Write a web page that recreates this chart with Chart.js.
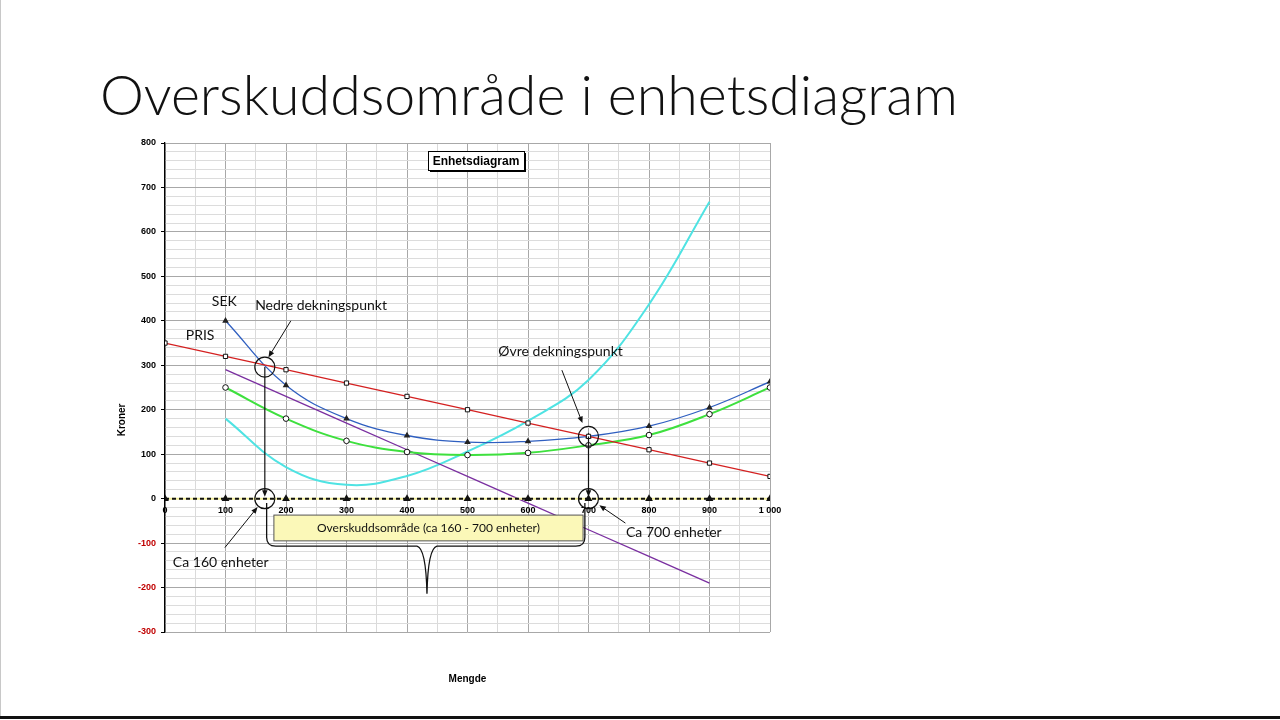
<!DOCTYPE html>
<html><head><meta charset="utf-8">
<script src="https://cdn.jsdelivr.net/npm/chart.js@4.4.1/dist/chart.umd.min.js"></script>
<style>
html,body{margin:0;padding:0;background:#fff;}
#wrap{position:relative;width:1280px;height:720px;overflow:hidden;background:#fff;}
#c{position:absolute;left:0;top:0;}
#lb{position:absolute;left:0;top:0;width:1px;height:716px;background:#c8c8c8;}
#bb{position:absolute;left:0;top:716px;width:1280px;height:3px;background:#111;}
</style></head><body>
<div id="wrap"><canvas id="c" width="1280" height="720"></canvas><div id="lb"></div><div id="bb"></div></div>
<script>
// ---- data ----
const mengde   = [0, 100, 200, 300, 400, 500, 600, 700, 800, 900, 1000];
const pris     = [350, 320, 290, 260, 230, 200, 170, 140, 110, 80, 50];
const mengde2  = [100, 200, 300, 400, 500, 600, 700, 800, 900, 1000];
const sek      = [400, 255, 180, 142, 127, 129, 140, 163, 205, 263];
const svek     = [250, 180, 130, 105, 98, 103, 120, 143, 190, 250];
const mengde3  = [100, 200, 300, 400, 500, 600, 700, 800, 900];
const gk       = [180, 71, 31, 51, 106, 175, 267, 437, 668];
const gi       = [290, 230, 170, 110, 50, -10, -70, -130, -190];
const nullinje = [0, 0, 0, 0, 0, 0, 0, 0, 0, 0, 0];
const yMin = -300, yMax = 800, xMin = 0, xMax = 1000;

const pts = (xs, ys) => xs.map((v, i) => ({x: v, y: ys[i]}));

const TXT = 'Lato, "Open Sans", sans-serif';
const AX = '"Liberation Sans", Arial, sans-serif';

function arrow(ctx, x1, y1, x2, y2, h) {
  h = h || 7;
  const ang = Math.atan2(y2 - y1, x2 - x1);
  ctx.beginPath(); ctx.moveTo(x1, y1); ctx.lineTo(x2 - Math.cos(ang) * h * 0.6, y2 - Math.sin(ang) * h * 0.6); ctx.stroke();
  ctx.beginPath();
  ctx.moveTo(x2, y2);
  ctx.lineTo(x2 - h * Math.cos(ang - 0.4), y2 - h * Math.sin(ang - 0.4));
  ctx.lineTo(x2 - h * Math.cos(ang + 0.4), y2 - h * Math.sin(ang + 0.4));
  ctx.closePath(); ctx.fill();
}

const annot = {
  id: 'annot',
  afterDraw(chart) {
    const {ctx, chartArea: a, scales: {x, y}} = chart;
    const X = v => x.getPixelForValue(v), Y = v => y.getPixelForValue(v);
    ctx.save();
    // slide title
    ctx.fillStyle = '#111';
    let fs = 58;
    ctx.font = '300 ' + fs + 'px ' + TXT;
    const w = ctx.measureText('Overskuddsområde i enhetsdiagram').width;
    fs = fs * 858 / w;
    ctx.font = '300 ' + fs + 'px ' + TXT;
    ctx.textBaseline = 'alphabetic'; ctx.textAlign = 'left';
    ctx.fillText('Overskuddsområde i enhetsdiagram', 100, 115);

    // chart title box
    const bx = a.left + 263, by = a.top + 8, bw = 96, bh = 19;
    ctx.fillStyle = '#000'; ctx.fillRect(bx + 2, by + 2, bw, bh);
    ctx.fillStyle = '#fff'; ctx.fillRect(bx, by, bw, bh);
    ctx.strokeStyle = '#000'; ctx.lineWidth = 1; ctx.strokeRect(bx + 0.5, by + 0.5, bw, bh);
    ctx.fillStyle = '#000'; ctx.font = 'bold 12px ' + AX; ctx.textAlign = 'center'; ctx.textBaseline = 'middle';
    ctx.fillText('Enhetsdiagram', bx + bw / 2, by + bh / 2 + 1);

    // axis titles
    ctx.font = 'bold 10px ' + AX;
    ctx.fillText('Mengde', (a.left + a.right) / 2, 679);
    ctx.save(); ctx.translate(122, Y(177)); ctx.rotate(-Math.PI / 2); ctx.fillText('Kroner', 0, 0); ctx.restore();

    // yellow area box
    ctx.fillStyle = '#fbf8b8'; ctx.strokeStyle = '#555'; ctx.lineWidth = 1;
    const x0 = X(180), x1 = X(691), y0 = Y(-37), y1 = Y(-95);
    ctx.fillRect(x0, y0, x1 - x0, y1 - y0); ctx.strokeRect(x0, y0, x1 - x0, y1 - y0);
    ctx.fillStyle = '#111'; ctx.font = '12px ' + TXT; ctx.textAlign = 'center'; ctx.textBaseline = 'middle';
    ctx.fillText('Overskuddsområde (ca 160 - 700 enheter)', (x0 + x1) / 2, (y0 + y1) / 2);

    // brace
    ctx.strokeStyle = '#111'; ctx.lineWidth = 1.3;
    const lx = X(168), rx = X(694), ty = Y(-10), byy = Y(-107), tx = X(433), tipy = Y(-214);
    ctx.beginPath();
    ctx.moveTo(lx, ty); ctx.lineTo(lx, byy - 9);
    ctx.quadraticCurveTo(lx, byy, lx + 9, byy);
    ctx.lineTo(tx - 10, byy);
    ctx.quadraticCurveTo(tx - 1, byy + 2, tx, tipy);
    ctx.quadraticCurveTo(tx + 1, byy + 2, tx + 10, byy);
    ctx.lineTo(rx - 9, byy);
    ctx.quadraticCurveTo(rx, byy, rx, byy - 9);
    ctx.lineTo(rx, ty);
    ctx.stroke();

    // break-even circles and drop arrows
    ctx.fillStyle = '#111'; ctx.lineWidth = 1.2;
    const be = [[165, 296], [700, 140]];
    be.forEach(([bxv, byv]) => {
      const cx = X(bxv), cy = Y(byv), zy = Y(0);
      ctx.beginPath(); ctx.arc(cx, cy, 10, 0, Math.PI * 2); ctx.stroke();
      ctx.beginPath(); ctx.arc(cx, zy, 10, 0, Math.PI * 2); ctx.stroke();
      arrow(ctx, cx, cy, cx, zy - 2, 7);
    });

    // text labels and pointers
    ctx.fillStyle = '#111'; ctx.font = '14px ' + TXT; ctx.textBaseline = 'middle';
    ctx.textAlign = 'center';
    ctx.fillText('SEK', X(98), Y(444));
    ctx.fillText('PRIS', X(58), Y(368));
    ctx.textAlign = 'left';
    ctx.fillText('Nedre dekningspunkt', X(149), Y(435));
    ctx.fillText('Øvre dekningspunkt', X(551), Y(330));
    ctx.fillText('Ca 700 enheter', X(762), Y(-77));
    ctx.fillText('Ca 160 enheter', X(13), Y(-143));
    ctx.lineWidth = 1;
    arrow(ctx, X(208), Y(400), X(171), Y(318), 7);
    arrow(ctx, X(656), Y(289), X(690), Y(170), 7);
    arrow(ctx, X(761), Y(-55), X(718), Y(-15), 7);
    arrow(ctx, X(99), Y(-110), X(153), Y(-19), 7);
    ctx.restore();
  }
};

const major = v => Math.abs(v % 100) < 1e-6;

new Chart(document.getElementById('c'), {
  type: 'line',
  data: {
    datasets: [
      {label: 'Null', data: pts(mengde, nullinje), borderColor: '#111', borderWidth: 2, borderDash: [4, 3],
        pointStyle: 'triangle', pointRadius: 2.5, pointBackgroundColor: '#111', pointBorderColor: '#111', order: 1},
      {label: 'NullGul', data: pts(mengde, nullinje), borderColor: '#f3ef9a', borderWidth: 2, pointRadius: 0, order: 2},
      {label: 'PRIS', data: pts(mengde, pris), borderColor: '#d42020', borderWidth: 1.3, pointStyle: 'rect', pointRadius: 3,
        pointBackgroundColor: '#fff', pointBorderColor: '#111', pointBorderWidth: 1, order: 3},
      {label: 'SEK', data: pts(mengde2, sek), borderColor: '#2f5fc0', borderWidth: 1.3, tension: 0.4, pointStyle: 'triangle',
        pointRadius: 2.5, pointBackgroundColor: '#222', pointBorderColor: '#222', order: 4},
      {label: 'SVEK', data: pts(mengde2, svek), borderColor: '#3ee03e', borderWidth: 2, tension: 0.4, pointStyle: 'circle',
        pointRadius: 2.8, pointBackgroundColor: '#fff', pointBorderColor: '#111', pointBorderWidth: 1, order: 5},
      {label: 'GI', data: pts(mengde3, gi), borderColor: '#7a2fa0', borderWidth: 1.3, pointRadius: 0, order: 6},
      {label: 'GK', data: pts(mengde3, gk), borderColor: '#4fe3e3', borderWidth: 2, tension: 0.4, pointRadius: 0, order: 7}
    ]
  },
  options: {
    responsive: false, animation: false, devicePixelRatio: 1,
    layout: {padding: {left: 135, top: 143, right: 510, bottom: 88}},
    plugins: {legend: {display: false}, tooltip: {enabled: false}, title: {display: false}},
    elements: {line: {fill: false}},
    scales: {
      x: {
        type: 'linear', min: xMin, max: xMax, position: {y: 0},
        afterFit: s => { s.height = 0; },
        border: {display: false},
        grid: {color: c => major(c.tick.value) ? '#a8a8a8' : '#dadada', lineWidth: 1, drawTicks: false},
        ticks: {stepSize: 50, autoSkip: false, maxRotation: 0, padding: 6, color: '#000',
          font: {family: AX, size: 9, weight: 'bold'},
          callback: v => major(v) ? (v >= 1000 ? '1 000' : String(v)) : ''}
      },
      y: {
        type: 'linear', min: yMin, max: yMax,
        afterFit: s => { s.width = 30; },
        border: {display: true, color: '#000', width: 1.3},
        grid: {color: c => major(c.tick.value) ? '#a8a8a8' : '#dcdcdc', lineWidth: 1, tickLength: 4,
          tickColor: c => major(c.tick.value) ? '#000' : 'rgba(0,0,0,0)'},
        ticks: {stepSize: 20, autoSkip: false, padding: 5,
          color: c => c.tick.value < 0 ? '#c00000' : '#000',
          font: {family: AX, size: 9, weight: 'bold'},
          callback: v => major(v) ? String(v) : ''}
      }
    }
  },
  plugins: [annot]
});
</script>
</body></html>
